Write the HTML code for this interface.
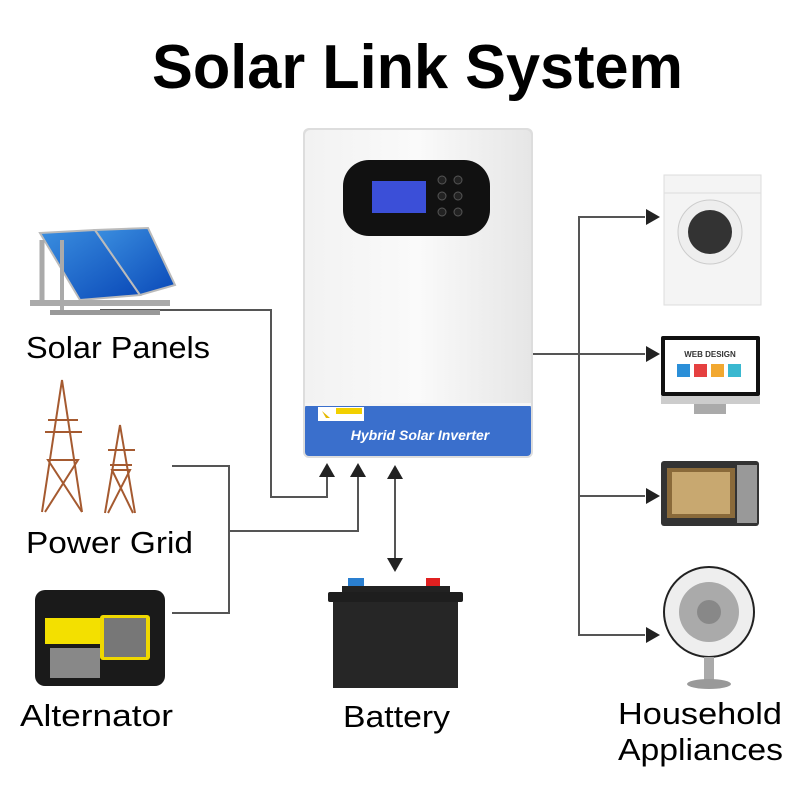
<!DOCTYPE html>
<html><head><meta charset="utf-8"><style>
html,body{margin:0;padding:0;background:#fff}
svg{display:block}
text{font-family:"Liberation Sans",sans-serif}
</style></head><body>
<svg width="800" height="800" viewBox="0 0 800 800" xmlns="http://www.w3.org/2000/svg">
<defs>
<linearGradient id="pv" x1="0" y1="0" x2="1" y2="1"><stop offset="0" stop-color="#3b8fe0"/><stop offset="1" stop-color="#0a49b8"/></linearGradient>
<linearGradient id="inv" x1="0" y1="0" x2="1" y2="0"><stop offset="0" stop-color="#f2f2f2"/><stop offset="0.5" stop-color="#fafafa"/><stop offset="1" stop-color="#e6e6e6"/></linearGradient>
</defs>
<text x="152" y="88" font-size="62" font-weight="bold" fill="#000" textLength="531" lengthAdjust="spacingAndGlyphs">Solar Link System</text>

<!-- connectors -->
<g stroke="#555" stroke-width="2" fill="none">
<polyline points="100,310 271,310 271,497 327,497 327,475"/>
<polyline points="172,466 229,466 229,613 172,613"/>
<polyline points="229,531 358,531 358,475"/>
<line x1="395" y1="478" x2="395" y2="560"/>
<line x1="530" y1="354" x2="645" y2="354"/>
<polyline points="645,217 579,217 579,635 645,635"/>
<line x1="579" y1="496" x2="645" y2="496"/>
</g>
<g fill="#222">
<polygon points="327,463 319,477 335,477"/>
<polygon points="358,463 350,477 366,477"/>
<polygon points="395,465 387,479 403,479"/>
<polygon points="395,572 387,558 403,558"/>
<polygon points="660,217 646,209 646,225"/>
<polygon points="660,354 646,346 646,362"/>
<polygon points="660,496 646,488 646,504"/>
<polygon points="660,635 646,627 646,643"/>
</g>

<!-- inverter -->
<rect x="303" y="128" width="230" height="330" rx="6" fill="#ddd"/>
<rect x="305" y="130" width="226" height="326" rx="5" fill="url(#inv)"/>
<rect x="305" y="404" width="226" height="52" rx="4" fill="#3a6fcc"/>
<rect x="305" y="403" width="226" height="3" fill="#f5f5f5"/>
<rect x="318" y="407" width="46" height="14" fill="#fff"/>
<rect x="336" y="408" width="26" height="6" fill="#f2d000"/>
<polygon points="326,418 322,411 330,418" fill="#e5b800"/>
<text x="420" y="440" text-anchor="middle" font-size="14" font-weight="bold" font-style="italic" fill="#fff">Hybrid Solar Inverter</text>
<rect x="343" y="160" width="147" height="76" rx="26" fill="#111"/>
<rect x="372" y="181" width="54" height="32" fill="#3b4fd8"/>
<g fill="#222" stroke="#555"><circle cx="442" cy="180" r="4"/><circle cx="442" cy="196" r="4"/><circle cx="442" cy="212" r="4"/><circle cx="458" cy="180" r="4"/><circle cx="458" cy="196" r="4"/><circle cx="458" cy="212" r="4"/></g>

<!-- solar panels -->
<g>
<polygon points="40,233 95,230 140,295 80,300" fill="url(#pv)" stroke="#bbb" stroke-width="2"/>
<polygon points="95,230 148,228 175,285 140,295" fill="url(#pv)" stroke="#bbb" stroke-width="2"/>
<rect x="30" y="300" width="140" height="6" fill="#aaa"/>
<rect x="50" y="310" width="110" height="5" fill="#999"/>
<line x1="42" y1="240" x2="42" y2="305" stroke="#aaa" stroke-width="5"/>
<line x1="62" y1="240" x2="62" y2="310" stroke="#aaa" stroke-width="4"/>
</g>
<text x="26" y="358" font-size="31" fill="#000" textLength="184" lengthAdjust="spacingAndGlyphs">Solar Panels</text>

<!-- towers -->
<g stroke="#a55a30" stroke-width="2" fill="none">
<polyline points="42,512 62,380 82,512"/><line x1="50" y1="460" x2="75" y2="460"/><line x1="48" y1="420" x2="78" y2="420"/><line x1="45" y1="432" x2="82" y2="432"/><polyline points="45,512 78,460 48,460 82,512"/>
<polyline points="105,513 120,425 135,513"/><line x1="108" y1="450" x2="135" y2="450"/><line x1="110" y1="465" x2="132" y2="465"/><polyline points="108,513 130,470 112,470 133,513"/>
</g>
<text x="26" y="553" font-size="31" fill="#000" textLength="167" lengthAdjust="spacingAndGlyphs">Power Grid</text>

<!-- generator -->
<rect x="35" y="590" width="130" height="96" rx="10" fill="#1a1a1a"/>
<rect x="45" y="618" width="55" height="26" fill="#f3e000"/>
<rect x="100" y="615" width="50" height="45" rx="3" fill="#f0d800"/>
<rect x="104" y="618" width="42" height="39" fill="#777"/>
<rect x="50" y="648" width="50" height="30" fill="#888"/>
<text x="20" y="726" font-size="31" fill="#000" textLength="153" lengthAdjust="spacingAndGlyphs">Alternator</text>

<!-- battery -->
<rect x="348" y="578" width="16" height="10" fill="#2a7fd0"/>
<rect x="426" y="578" width="14" height="10" fill="#e02020"/>
<rect x="342" y="586" width="108" height="8" fill="#222"/>
<rect x="328" y="592" width="135" height="10" rx="2" fill="#1e1e1e"/>
<rect x="333" y="602" width="125" height="86" fill="#262626"/>
<text x="343" y="727" font-size="31" fill="#000" textLength="107" lengthAdjust="spacingAndGlyphs">Battery</text>

<!-- washing machine -->
<rect x="664" y="175" width="97" height="130" fill="#f4f4f4" stroke="#ddd"/>
<line x1="664" y1="193" x2="761" y2="193" stroke="#ddd"/>
<circle cx="710" cy="232" r="32" fill="#eee" stroke="#ccc"/>
<circle cx="710" cy="232" r="22" fill="#333"/>
<!-- monitor -->
<rect x="661" y="336" width="99" height="60" rx="2" fill="#111"/>
<rect x="665" y="340" width="91" height="52" fill="#fff"/>
<text x="710" y="357" text-anchor="middle" font-size="8" font-weight="bold" fill="#333">WEB DESIGN</text>
<rect x="677" y="364" width="13" height="13" fill="#2b8fd8"/><rect x="694" y="364" width="13" height="13" fill="#e54040"/><rect x="711" y="364" width="13" height="13" fill="#f2a830"/><rect x="728" y="364" width="13" height="13" fill="#3ab8d0"/>
<rect x="661" y="396" width="99" height="8" fill="#ccc"/>
<rect x="694" y="404" width="32" height="10" fill="#aaa"/>
<!-- microwave -->
<rect x="661" y="461" width="98" height="65" rx="3" fill="#333"/>
<rect x="667" y="468" width="68" height="50" fill="#8a6a3a"/>
<rect x="672" y="472" width="58" height="42" fill="#c8a870"/>
<rect x="737" y="465" width="20" height="58" fill="#999"/>
<!-- fan -->
<circle cx="709" cy="612" r="45" fill="#eee" stroke="#222" stroke-width="2"/>
<circle cx="709" cy="612" r="30" fill="#aaa"/>
<circle cx="709" cy="612" r="12" fill="#888"/>
<rect x="704" y="657" width="10" height="25" fill="#aaa"/>
<ellipse cx="709" cy="684" rx="22" ry="5" fill="#999"/>
<text x="618" y="724" font-size="31" fill="#000" textLength="164" lengthAdjust="spacingAndGlyphs">Household</text>
<text x="618" y="760" font-size="31" fill="#000" textLength="165" lengthAdjust="spacingAndGlyphs">Appliances</text>
</svg>
</body></html>
